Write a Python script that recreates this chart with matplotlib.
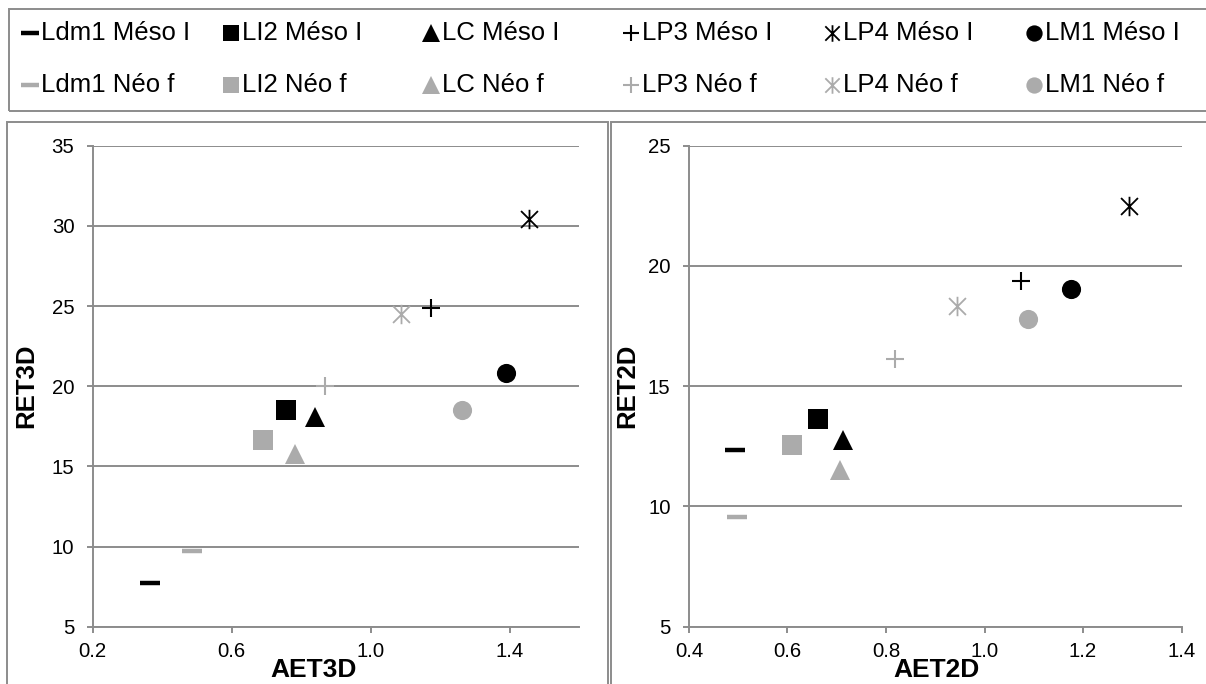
import matplotlib
matplotlib.use("Agg")
import matplotlib.pyplot as plt
from matplotlib.path import Path
from matplotlib.lines import Line2D
from matplotlib.patches import Rectangle

plt.rcParams['font.family'] = ['Liberation Sans', 'DejaVu Sans']

# ---- data ----
series_names = ["Ldm1", "LI2", "LC", "LP3", "LP4", "LM1"]
groups = ["Méso I", "Néo f"]

# AET3D / RET3D (left panel)
aet3d_meso = [0.365, 0.757, 0.839, 1.174, 1.455, 1.388]
ret3d_meso = [7.7, 18.5, 18.1, 24.9, 30.45, 20.8]
aet3d_neo = [0.485, 0.691, 0.783, 0.868, 1.087, 1.264]
ret3d_neo = [9.75, 16.65, 15.8, 20.0, 24.5, 18.5]

# AET2D / RET2D (right panel)
aet2d_meso = [0.494, 0.663, 0.712, 1.074, 1.293, 1.176]
ret2d_meso = [12.35, 13.65, 12.75, 19.37, 22.5, 19.05]
aet2d_neo = [0.498, 0.609, 0.707, 0.819, 0.945, 1.089]
ret2d_neo = [9.56, 12.55, 11.5, 16.15, 18.32, 17.8]

left_xticks = [0.2, 0.6, 1.0, 1.4]
left_yticks = [5, 10, 15, 20, 25, 30, 35]
right_xticks = [0.4, 0.6, 0.8, 1.0, 1.2, 1.4]
right_yticks = [5, 10, 15, 20, 25]

# ---- styles ----
BLACK = "#000000"
GRAY = "#ABABAB"
AXIS_GRAY = "#8C8C8C"
star_path = Path([(-1, -1), (1, 1), (-1, 1), (1, -1), (0, -1.15), (0, 1.15)],
                 [Path.MOVETO, Path.LINETO, Path.MOVETO, Path.LINETO, Path.MOVETO, Path.LINETO])
marker_styles = [
    dict(marker="_", markersize=14.5, markeredgewidth=3.2),
    dict(marker="s", markersize=14, markeredgewidth=0),
    dict(marker="^", markersize=15, markeredgewidth=0),
    dict(marker="+", markersize=13, markeredgewidth=1.5),
    dict(marker=star_path, markersize=14, markeredgewidth=1.3, markerfacecolor="none"),
    dict(marker="o", markersize=13.8, markeredgewidth=0),
]


def style_for(i, color, scale=1.0):
    st = dict(marker_styles[i])
    st["markersize"] = st["markersize"] * scale
    st.setdefault("markerfacecolor", color)
    st["markeredgecolor"] = color
    st["color"] = color
    st["linestyle"] = "none"
    return st


W, H = 1206, 684
fig = plt.figure(figsize=(W / 100, H / 100), dpi=100)


def px_rect(x0, y0, x1, y1):
    return [x0 / W, 1 - y1 / H, (x1 - x0) / W, (y1 - y0) / H]


# frames
for (x0, y0, x1, y1) in [(9, 9, 1215, 110.7), (7, 121.7, 607.7, 700), (611, 121.7, 1220, 700)]:
    fig.add_artist(Rectangle((x0 / W, 1 - y1 / H), (x1 - x0) / W, (y1 - y0) / H,
                             transform=fig.transFigure, fill=False,
                             edgecolor=AXIS_GRAY, linewidth=1.4))

L_BOX = (92.7, 145.7, 579.2, 626.7)
R_BOX = (688.9, 145.7, 1181.6, 626.7)
ax1 = fig.add_axes(px_rect(*L_BOX))
ax2 = fig.add_axes(px_rect(*R_BOX))


def setup(ax, box, xs_m, ys_m, xs_n, ys_n, xlim, ylim, xticks, yticks,
          xlabel, ylabel, xlab_cx, ylab_cx):
    for i in range(len(series_names)):
        ax.plot([xs_m[i]], [ys_m[i]], **style_for(i, BLACK), zorder=3, clip_on=False)
        ax.plot([xs_n[i]], [ys_n[i]], **style_for(i, GRAY), zorder=3, clip_on=False)
    ax.set_xlim(*xlim)
    ax.set_ylim(*ylim)
    ax.set_xticks(xticks)
    ax.set_xticklabels([f"{v:.1f}" for v in xticks])
    ax.set_yticks(yticks)
    ax.set_yticklabels([str(v) for v in yticks])
    for s in ["top", "right"]:
        ax.spines[s].set_visible(False)
    for s in ["left", "bottom"]:
        ax.spines[s].set_color(AXIS_GRAY)
        ax.spines[s].set_linewidth(1.4)
    ax.yaxis.grid(True, color=AXIS_GRAY, linewidth=1.4)
    ax.set_axisbelow(True)
    ax.tick_params(axis="both", direction="out", length=4.3, width=1.4, color=AXIS_GRAY,
                   labelsize=14.7, labelcolor="black")
    ax.tick_params(axis="y", pad=8.9)
    ax.tick_params(axis="x", pad=6.5)
    w = box[2] - box[0]
    h = box[3] - box[1]
    ax.set_xlabel(xlabel, fontsize=19, fontweight="bold")
    ax.xaxis.label.set_va("center")
    ax.xaxis.set_label_coords((xlab_cx - box[0]) / w, -(670 - box[3]) / h)
    ax.set_ylabel(ylabel, fontsize=18.5, fontweight="bold")
    ax.yaxis.label.set_va("center")
    ax.yaxis.set_label_coords((ylab_cx - box[0]) / w, 0.5)
    ax.patch.set_alpha(0)


setup(ax1, L_BOX, aet3d_meso, ret3d_meso, aet3d_neo, ret3d_neo, (0.2, 1.6), (5, 35),
      left_xticks, left_yticks, "AET3D", "RET3D", 314, 25.9)
setup(ax2, R_BOX, aet2d_meso, ret2d_meso, aet2d_neo, ret2d_neo, (0.4, 1.4), (5, 25),
      right_xticks, right_yticks, "AET2D", "RET2D", 936, 627)

# legend (manual layout in two rows, six columns)
col_x = [29.7, 230.5, 431, 631, 832, 1033.6]
row_y = [33.3, 85]
colors = [BLACK, GRAY]
for r, grp in enumerate(groups):
    for i, name in enumerate(series_names):
        xm = col_x[i] / W
        ym = 1 - row_y[r] / H
        st = style_for(i, colors[r], scale=0.85)
        st.pop("linestyle")
        ln = Line2D([xm], [ym], transform=fig.transFigure, linestyle="none", **st)
        fig.add_artist(ln)
        fig.text(xm + 11 / W, ym, f"{name} {grp}", fontsize=18.5, va="center", ha="left")

fig.savefig("out.png", dpi=100)
